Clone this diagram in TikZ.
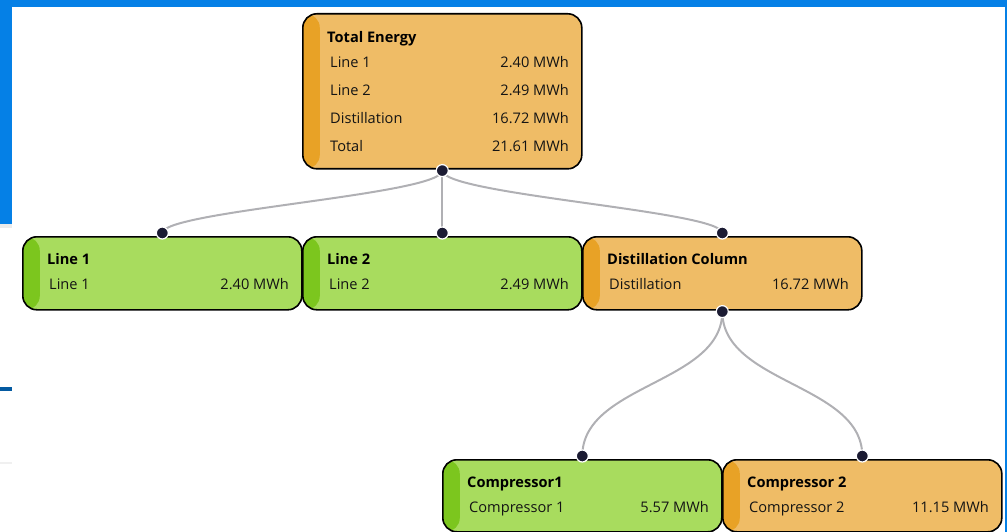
\documentclass[tikz,border=0pt]{standalone}
\usepackage{fontspec}
\setmainfont{Open Sans}
\definecolor{ofill}{HTML}{EFBC66}
\definecolor{ostripe}{HTML}{E8A226}
\definecolor{gfill}{HTML}{A8DC5E}
\definecolor{gstripe}{HTML}{7CC61E}
\definecolor{frameblue}{HTML}{0580E6}
\definecolor{dotc}{HTML}{1B1B33}
\definecolor{connc}{HTML}{B0B0B4}
\definecolor{txt}{HTML}{141414}
\begin{document}
\begin{tikzpicture}[x=1pt,y=-1pt,
  box/.style={draw=black, line width=1.6pt, rounded corners=14pt, minimum width=279pt,
    minimum height=73pt, inner sep=0pt, anchor=north west},
  obox/.style={box, fill=ofill, path picture={\fill[ostripe] (path picture bounding box.south west) rectangle ([xshift=17pt]path picture bounding box.north west);}},
  gbox/.style={box, fill=gfill, path picture={\fill[gstripe] (path picture bounding box.south west) rectangle ([xshift=17pt]path picture bounding box.north west);}},
  ttl/.style={anchor=base west, inner sep=0pt, font=\fontsize{14.6}{16}\selectfont\bfseries, text=black},
  lab/.style={anchor=base west, inner sep=0pt, font=\fontsize{14.6}{16}\selectfont, text=txt},
  val/.style={anchor=base east, inner sep=0pt, font=\fontsize{14.6}{16}\selectfont, text=txt},
  dot/.style={circle, fill=dotc, draw=white, line width=1.2pt, minimum size=12pt, inner sep=0pt},
  conn/.style={draw=connc, line width=2pt}]
\useasboundingbox (0,0) rectangle (1007,532);
% screenshot frame
\fill[frameblue] (0,0) rectangle (1007,7);
\fill[frameblue] (0,0) rectangle (12,224);
\fill[frameblue] (1005,0) rectangle (1007,532);
\fill[black!8] (0,224) rectangle (12,228);
\fill[frameblue!70!black] (0,387) rectangle (12,391);
\fill[black!6] (0,462) rectangle (12,464);
% boxes
\node[obox, minimum height=155pt] (te) at (302,13) {};
\node[gbox] (l1) at (22,236) {};
\node[gbox] (l2) at (302,236) {};
\node[obox] (dc) at (582,236) {};
\node[gbox, minimum height=72pt] (c1) at (442,459) {};
\node[obox, minimum height=72pt] (c2) at (722,459) {};
% texts
\node[ttl] (te-t) at (327,42.5) {Total Energy};
\node[lab] (te-a1) at (330,67.5) {Line 1};
\node[val] (te-b1) at (569,67.5) {2.40 MWh};
\node[lab] (te-a2) at (330,95.5) {Line 2};
\node[val] (te-b2) at (569,95.5) {2.49 MWh};
\node[lab] (te-a3) at (330,123.5) {Distillation};
\node[val] (te-b3) at (569,123.5) {16.72 MWh};
\node[lab] (te-a4) at (330,151.5) {Total};
\node[val] (te-b4) at (569,151.5) {21.61 MWh};
\node[ttl] (l1-t) at (47,264.5) {Line 1};
\node[lab] (l1-a) at (49,289.5) {Line 1};
\node[val] (l1-b) at (289,289.5) {2.40 MWh};
\node[ttl] (l2-t) at (327,264.5) {Line 2};
\node[lab] (l2-a) at (329,289.5) {Line 2};
\node[val] (l2-b) at (569,289.5) {2.49 MWh};
\node[ttl] (dc-t) at (607,264.5) {Distillation Column};
\node[lab] (dc-a) at (609,289.5) {Distillation};
\node[val] (dc-b) at (849,289.5) {16.72 MWh};
\node[ttl] (c1-t) at (467,487.5) {Compressor1};
\node[lab] (c1-a) at (469,512.5) {Compressor 1};
\node[val] (c1-b) at (709,512.5) {5.57 MWh};
\node[ttl] (c2-t) at (747,487.5) {Compressor 2};
\node[lab] (c2-a) at (749,512.5) {Compressor 2};
\node[val] (c2-b) at (989,512.5) {11.15 MWh};
% connector points
\coordinate (te-o) at ([yshift=-1pt]te.south);
\coordinate (l1-i) at ([yshift=3pt]l1.north);
\coordinate (l2-i) at ([yshift=3pt]l2.north);
\coordinate (dc-i) at ([yshift=3pt]dc.north);
\coordinate (dc-o) at ([yshift=-1pt]dc.south);
\coordinate (c1-i) at ([yshift=3pt]c1.north);
\coordinate (c2-i) at ([yshift=3pt]c2.north);
% connectors
\draw[conn] (te-o) .. controls +(0,24) and +(0,-22) .. (l1-i);
\draw[conn] (te-o) -- (l2-i);
\draw[conn] (te-o) .. controls +(0,24) and +(0,-22) .. (dc-i);
\draw[conn] (dc-o) .. controls +(0,72) and +(0,-72) .. (c1-i);
\draw[conn] (dc-o) .. controls +(0,72) and +(0,-72) .. (c2-i);
% dots
\foreach \p in {te-o,l1-i,l2-i,dc-i,dc-o,c1-i,c2-i} \node[dot] at (\p) {};
\end{tikzpicture}
\end{document}
